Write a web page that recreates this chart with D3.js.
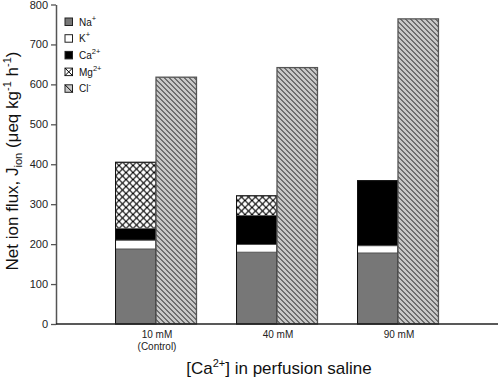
<!DOCTYPE html>
<html>
<head>
<meta charset="utf-8">
<script src="https://cdn.jsdelivr.net/npm/d3@7"></script>
<style>
  body { margin: 0; background: #fff; }
  svg { display: block; font-family: "Liberation Sans", Arial, sans-serif; }
</style>
</head>
<body>
<div id="content"></div>
<script>
// values (µeq kg-1 h-1)
const categories = ["10 mM", "40 mM", "90 mM"]
const subLabels = ["(Control)", "", ""]
const na = [188, 180, 178]
const k = [22, 19, 18]
const ca = [29, 73, 163]
const mg = [166, 49, 0]
const cl = [618, 642, 764]
const yTicks = [0, 100, 200, 300, 400, 500, 600, 700, 800]

const ions = [
  {key: "Na", sup: "+", values: na, fill: "#777777"},
  {key: "K", sup: "+", values: k, fill: "#ffffff"},
  {key: "Ca", sup: "2+", values: ca, fill: "#000000"},
  {key: "Mg", sup: "2+", values: mg, fill: "url(#hatchMg)"},
]

const outerWidth = 500
const outerHeight = 378
const margin = {top: 4.5, right: 2, bottom: 54, left: 56}
const width = outerWidth - margin.left - margin.right
const height = outerHeight - margin.top - margin.bottom

const svg = d3.select("#content").append("svg")
    .attr("width", outerWidth)
    .attr("height", outerHeight)

// fill patterns
const defs = svg.append("defs")
const pMg = defs.append("pattern")
    .attr("id", "hatchMg")
    .attr("patternUnits", "userSpaceOnUse")
    .attr("width", 7).attr("height", 7)
pMg.append("rect").attr("width", 7).attr("height", 7).attr("fill", "#fff")
pMg.append("path")
    .attr("d", "M0,0L7,7M7,0L0,7")
    .attr("stroke", "#000").attr("stroke-width", 1.1)

const pCl = defs.append("pattern")
    .attr("id", "hatchCl")
    .attr("patternUnits", "userSpaceOnUse")
    .attr("width", 5).attr("height", 5)
pCl.append("rect").attr("width", 5).attr("height", 5).attr("fill", "#c9c9c9")
pCl.append("path")
    .attr("d", "M0,0L5,5M-1,4L1,6M4,-1L6,1")
    .attr("stroke", "#000").attr("stroke-width", 0.9)

const wrapper = svg.append("g")
    .attr("transform", `translate(${margin.left}, ${margin.top})`)

// scales
const xScale = d3.scaleBand()
    .domain(categories)
    .range([0, width])
    .paddingInner(0.331)
    .paddingOuter(0.492)
const xSub = d3.scaleBand()
    .domain(["cations", "Cl"])
    .range([0, xScale.bandwidth()])
const yScale = d3.scaleLinear()
    .domain([0, 800])
    .range([height, 0])

// stacked cation bars
const stackData = categories.map((c, i) => {
  const row = {cat: c}
  ions.forEach(ion => { row[ion.key] = ion.values[i] })
  return row
})
const series = d3.stack().keys(ions.map(d => d.key))(stackData)

wrapper.selectAll(".layer")
    .data(series)
  .enter().append("g")
    .attr("class", "layer")
    .attr("fill", (d, i) => ions[i].fill)
  .selectAll("rect")
    .data(d => d.filter(s => s[1] > s[0]))
  .enter().append("rect")
    .attr("x", d => xScale(d.data.cat) + xSub("cations"))
    .attr("width", xSub.bandwidth())
    .attr("y", d => yScale(d[1]))
    .attr("height", d => yScale(d[0]) - yScale(d[1]))
    .attr("stroke", "#555")
    .attr("stroke-width", 0.8)

// outline of whole cation bar
wrapper.selectAll(".cationOutline")
    .data(stackData)
  .enter().append("rect")
    .attr("x", d => xScale(d.cat) + xSub("cations"))
    .attr("width", xSub.bandwidth())
    .attr("y", d => yScale(d.Na + d.K + d.Ca + d.Mg))
    .attr("height", d => yScale(0) - yScale(d.Na + d.K + d.Ca + d.Mg))
    .attr("fill", "none")
    .attr("stroke", "#111")
    .attr("stroke-width", 1)

// chloride bars
wrapper.selectAll(".clBar")
    .data(categories)
  .enter().append("rect")
    .attr("class", "clBar")
    .attr("x", d => xScale(d) + xSub("Cl"))
    .attr("width", xSub.bandwidth())
    .attr("y", (d, i) => yScale(cl[i]))
    .attr("height", (d, i) => yScale(0) - yScale(cl[i]))
    .attr("fill", "url(#hatchCl)")
    .attr("stroke", "#555")
    .attr("stroke-width", 1.3)

// axes
const yAxis = d3.axisLeft(yScale)
    .tickValues(yTicks)
    .tickSize(5)
    .tickSizeOuter(0)
const gy = wrapper.append("g").call(yAxis)
gy.select(".domain").attr("stroke", "#555").attr("stroke-width", 1.5)
gy.selectAll(".tick line").attr("stroke", "#555").attr("stroke-width", 1.3)
gy.selectAll(".tick text")
    .attr("x", -8)
    .style("font-size", "11px")
    .style("font-family", "Liberation Sans, Arial, sans-serif")
    .attr("fill", "#222")

wrapper.append("line")
    .attr("x1", 0).attr("x2", width)
    .attr("y1", height).attr("y2", height)
    .attr("stroke", "#222")
    .attr("stroke-width", 1.5)

// category labels
const catLabel = wrapper.selectAll(".catLabel")
    .data(categories)
  .enter().append("text")
    .attr("class", "catLabel")
    .attr("x", d => xScale(d) + xScale.bandwidth() / 2 + 1)
    .attr("y", height + 14)
    .attr("text-anchor", "middle")
    .style("font-size", "10px")
    .attr("fill", "#222")
catLabel.append("tspan").text(d => d)
catLabel.append("tspan")
    .attr("x", d => xScale(d) + xScale.bandwidth() / 2 + 1)
    .attr("dy", 12)
    .text((d, i) => subLabels[i])

// x title
const xTitle = svg.append("text")
    .attr("x", 279)
    .attr("y", 374)
    .attr("text-anchor", "middle")
    .style("font-size", "17px")
    .attr("fill", "#111")
xTitle.append("tspan").text("[Ca")
xTitle.append("tspan").attr("dy", -7).style("font-size", "11px").text("2+")
xTitle.append("tspan").attr("dy", 7).text("] in perfusion saline")

// y title
const yTitle = svg.append("text")
    .attr("transform", `translate(18, ${161}) rotate(-90)`)
    .attr("text-anchor", "middle")
    .style("font-size", "17px")
    .attr("fill", "#111")
yTitle.append("tspan").text("Net ion flux, J")
yTitle.append("tspan").attr("dy", 4).style("font-size", "11px").text("ion")
yTitle.append("tspan").attr("dy", -4).text(" (μeq kg")
yTitle.append("tspan").attr("dy", -7).style("font-size", "11px").text("-1")
yTitle.append("tspan").attr("dy", 7).text(" h")
yTitle.append("tspan").attr("dy", -7).style("font-size", "11px").text("-1")
yTitle.append("tspan").attr("dy", 7).text(")")

// legend
const legendItems = ions.map(d => ({key: d.key, sup: d.sup}))
    .concat([{key: "Cl", sup: "-"}])
const legend = svg.append("g")
    .attr("transform", "translate(65, 18)")
const item = legend.selectAll(".item")
    .data(legendItems)
  .enter().append("g")
    .attr("class", "item")
    .attr("transform", (d, i) => `translate(0, ${i * 16.7})`)

item.append("rect")
    .attr("width", 7.5).attr("height", 7.5)
    .attr("fill", (d, i) => i < 3 ? ions[i].fill : i === 3 ? "#fff" : "#c9c9c9")
    .attr("stroke", "#222")
    .attr("stroke-width", 1)
item.filter(d => d.key === "Mg").append("path")
    .attr("d", "M0,0L7.5,7.5M7.5,0L0,7.5")
    .attr("stroke", "#000").attr("stroke-width", 1)
item.filter(d => d.key === "Cl").append("path")
    .attr("d", "M0,0L7.5,7.5")
    .attr("stroke", "#000").attr("stroke-width", 1)

const itemText = item.append("text")
    .attr("x", 14)
    .attr("y", 7.5)
    .style("font-size", "10px")
    .attr("fill", "#111")
itemText.append("tspan").text(d => d.key)
itemText.append("tspan")
    .attr("dy", -5)
    .style("font-size", "7.5px")
    .text(d => d.sup)
</script>
</body>
</html>
